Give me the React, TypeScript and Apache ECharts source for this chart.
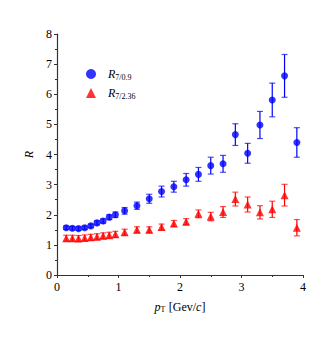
import React, { useEffect, useRef } from "react";
import * as echarts from "echarts";

const pT = [0.15, 0.25, 0.35, 0.45, 0.55, 0.65, 0.75, 0.85, 0.95, 1.1, 1.3, 1.5, 1.7, 1.9, 2.1, 2.3, 2.5, 2.7, 2.9, 3.1, 3.3, 3.5, 3.7, 3.9];
const r709 = [1.57, 1.55, 1.54, 1.57, 1.63, 1.73, 1.79, 1.92, 2.0, 2.13, 2.3, 2.53, 2.77, 2.93, 3.16, 3.34, 3.63, 3.69, 4.66, 4.04, 4.98, 5.81, 6.61, 4.4];
const r709Err = [0.06, 0.06, 0.06, 0.06, 0.06, 0.07, 0.07, 0.08, 0.09, 0.11, 0.12, 0.15, 0.18, 0.18, 0.21, 0.23, 0.28, 0.28, 0.36, 0.33, 0.45, 0.56, 0.71, 0.49];
const r7236 = [1.22, 1.22, 1.21, 1.23, 1.25, 1.27, 1.3, 1.32, 1.35, 1.42, 1.5, 1.5, 1.59, 1.71, 1.77, 2.03, 1.94, 2.09, 2.52, 2.34, 2.08, 2.18, 2.65, 1.57];
const r7236Err = [0.1, 0.1, 0.1, 0.1, 0.1, 0.1, 0.1, 0.1, 0.1, 0.1, 0.1, 0.1, 0.1, 0.1, 0.1, 0.13, 0.14, 0.18, 0.23, 0.25, 0.22, 0.27, 0.36, 0.27];
const xTicks = [0, 1, 2, 3, 4];
const yTicks = [0, 1, 2, 3, 4, 5, 6, 7, 8];

const BLUE = "#0000ff";
const RED = "#ff0000";
const FONT = "'Liberation Serif', 'Times New Roman', serif";

function errSeries(vals: number[], errs: number[], color: string) {
  return {
    type: "custom",
    silent: true,
    z: 1,
    data: pT.map((x, i) => [x, vals[i], errs[i]]),
    renderItem: (params: any, api: any) => {
      const x = api.value(0);
      const y = api.value(1);
      const e = api.value(2);
      const t = api.coord([x, y + e]);
      const b = api.coord([x, y - e]);
      const hw = 3;
      const st = { stroke: color, lineWidth: 1.2 };
      return {
        type: "group",
        children: [
          { type: "line", shape: { x1: t[0], y1: t[1], x2: b[0], y2: b[1] }, style: st },
          { type: "line", shape: { x1: t[0] - hw, y1: t[1], x2: t[0] + hw, y2: t[1] }, style: { stroke: color, lineWidth: 1.2, opacity: 0.7 } },
          { type: "line", shape: { x1: b[0] - hw, y1: b[1], x2: b[0] + hw, y2: b[1] }, style: { stroke: color, lineWidth: 1.2, opacity: 0.7 } },
        ],
      };
    },
  };
}

export default function App() {
  const ref = useRef<HTMLDivElement>(null);
  useEffect(() => {
    const chart = echarts.init(ref.current!, null, { renderer: "svg" });
    const axisCommon = {
      axisLine: { show: true, lineStyle: { color: "#333", width: 1.2 } },
      axisTick: { show: true, inside: false, length: 3, lineStyle: { color: "#333" } },
      minorTick: { show: true, splitNumber: 2, length: 2, lineStyle: { color: "#333" } },
      splitLine: { show: false },
      axisLabel: { color: "#000", fontFamily: FONT, fontSize: 12 },
    };
    chart.setOption({
      animation: false,
      backgroundColor: "#fff",
      grid: { left: 57, right: 29, top: 34, bottom: 66 },
      legend: {
        orient: "vertical",
        left: 81,
        top: 63,
        itemWidth: 10,
        itemHeight: 10,
        itemGap: 6,
        data: ["R709", "R7236"],
        formatter: (name: string) => (name === "R709" ? "{i|R}{s|7/0.9}" : "{i|R}{s|7/2.36}"),
        textStyle: {
          padding: [0, 0, 0, 7],
          rich: {
            i: { fontFamily: FONT, fontStyle: "italic", fontSize: 12, color: "#000" },
            s: { fontFamily: FONT, fontSize: 8, color: "#000", padding: [6, 0, 0, 0] },
          },
        },
      },
      xAxis: {
        type: "value",
        min: 0,
        max: 4,
        interval: 1,
        ...axisCommon,
        axisLabel: { ...axisCommon.axisLabel, margin: 6, formatter: (v: number) => (xTicks.includes(v) ? String(v) : "") },
        name: "{i|p}{s|T} {n|[Gev/}{i|c}{n|]}",
        nameLocation: "middle",
        nameGap: 25,
        nameTextStyle: {
          rich: {
            i: { fontFamily: FONT, fontStyle: "italic", fontSize: 12, color: "#000" },
            n: { fontFamily: FONT, fontSize: 12, color: "#000" },
            s: { fontFamily: FONT, fontSize: 8, color: "#000", padding: [5, 0, 0, 0] },
          },
        },
      },
      yAxis: {
        type: "value",
        min: 0,
        max: 8,
        interval: 1,
        ...axisCommon,
        axisLabel: { ...axisCommon.axisLabel, margin: 5, formatter: (v: number) => (yTicks.includes(v) ? String(v) : "") },
        name: "R",
        nameLocation: "middle",
        nameGap: 22,
        nameRotate: 90,
        nameTextStyle: { fontFamily: FONT, fontStyle: "italic", fontSize: 12, color: "#000" },
      },
      series: [
        errSeries(r709, r709Err, BLUE),
        errSeries(r7236, r7236Err, RED),
        {
          name: "R709",
          type: "scatter",
          symbol: "circle",
          symbolSize: 7,
          z: 3,
          itemStyle: { color: BLUE },
          data: pT.map((x, i) => [x, r709[i]]),
        },
        {
          name: "R7236",
          type: "scatter",
          symbol: "triangle",
          symbolSize: 8,
          z: 3,
          itemStyle: { color: RED },
          data: pT.map((x, i) => [x, r7236[i]]),
        },
      ],
    });
    return () => chart.dispose();
  }, []);
  return <div ref={ref} style={{ position: "absolute", left: 0, top: 0, width: 332, height: 341 }} />;
}
